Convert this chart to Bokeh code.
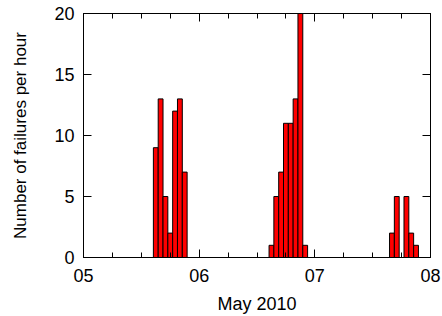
import pandas as pd
from bokeh.plotting import figure
from bokeh.models import ColumnDataSource, FixedTicker, LinearAxis, Range1d
from bokeh.embed import file_html
from bokeh.resources import INLINE

# Data (May 2010, hourly failure counts)
hour_stamps = [
    "2010-05-05 15:00", "2010-05-05 16:00", "2010-05-05 17:00", "2010-05-05 18:00",
    "2010-05-05 19:00", "2010-05-05 20:00", "2010-05-05 21:00",
    "2010-05-06 15:00", "2010-05-06 16:00", "2010-05-06 17:00", "2010-05-06 18:00",
    "2010-05-06 19:00", "2010-05-06 20:00", "2010-05-06 21:00", "2010-05-06 22:00",
    "2010-05-07 16:00", "2010-05-07 17:00", "2010-05-07 19:00", "2010-05-07 20:00",
    "2010-05-07 21:00",
]
failures = [9, 13, 5, 2, 12, 13, 7,
            1, 5, 7, 11, 11, 13, 20, 1,
            2, 5, 5, 2, 1]
day_ticks = ["2010-05-05", "2010-05-06", "2010-05-07", "2010-05-08"]
day_labels = ["05", "06", "07", "08"]
y_ticks = [0, 5, 10, 15, 20]

start = pd.Timestamp(day_ticks[0])
hours = [(pd.Timestamp(s) - start).total_seconds() / 3600 for s in hour_stamps]
tick_hours = [(pd.Timestamp(d) - start).total_seconds() / 3600 for d in day_ticks]
minor_hours = [h for h in range(int(tick_hours[0]), int(tick_hours[-1]) + 1, 6)
               if h not in tick_hours]

src = ColumnDataSource(dict(x=hours, y=failures))

FONT = "Liberation Sans"

p = figure(width=442, height=316, output_backend="svg", toolbar_location=None,
           x_range=Range1d(tick_hours[0], tick_hours[-1]), y_range=Range1d(0, 20),
           min_border_left=83, min_border_right=12, min_border_top=13, min_border_bottom=59,
           x_axis_label="May 2010", y_axis_label="Number of failures per hour")

p.vbar(x="x", top="y", width=1, bottom=0, source=src,
       fill_color="#ff0000", line_color="black", line_width=1)

p.xgrid.visible = False
p.ygrid.visible = False
p.outline_line_color = "black"
p.outline_line_width = 1
p.background_fill_color = "white"
p.border_fill_color = "white"

xt = FixedTicker(ticks=tick_hours, minor_ticks=minor_hours)
yt = FixedTicker(ticks=y_ticks, minor_ticks=[])
overrides = {h: lab for h, lab in zip(tick_hours, day_labels)}

for ax in p.xaxis:
    ax.ticker = xt
    ax.major_label_overrides = overrides
for ax in p.yaxis:
    ax.ticker = yt

def style(ax, show_labels=True):
    ax.axis_line_color = "black"
    ax.major_tick_line_color = "black"
    ax.minor_tick_line_color = "black"
    ax.major_tick_in = 8
    ax.major_tick_out = 0
    ax.minor_tick_in = 5
    ax.minor_tick_out = 0
    ax.major_label_text_font = FONT
    ax.major_label_text_font_size = "18px" if show_labels else "0px"
    ax.major_label_text_color = "black"
    ax.axis_label_text_font = FONT
    ax.axis_label_text_font_style = "normal"
    ax.axis_label_text_color = "black"

style(p.xaxis[0])
style(p.yaxis[0])
p.xaxis[0].major_label_standoff = 11
p.xaxis[0].axis_label_standoff = 9
p.xaxis[0].axis_label_text_font_size = "18px"
p.yaxis[0].major_label_standoff = 9
p.yaxis[0].axis_label_standoff = 21
p.yaxis[0].axis_label_text_font_size = "17px"

top_ax = LinearAxis(ticker=xt)
style(top_ax, show_labels=False)
top_ax.major_label_standoff = 0
top_ax.major_label_overrides = {h: "" for h in tick_hours}
right_ax = LinearAxis(ticker=yt)
style(right_ax, show_labels=False)
right_ax.major_label_standoff = 0
right_ax.major_label_overrides = {t: "" for t in y_ticks}
p.add_layout(top_ax, "above")
p.add_layout(right_ax, "right")

open("out.html", "w").write(file_html(p, INLINE))
